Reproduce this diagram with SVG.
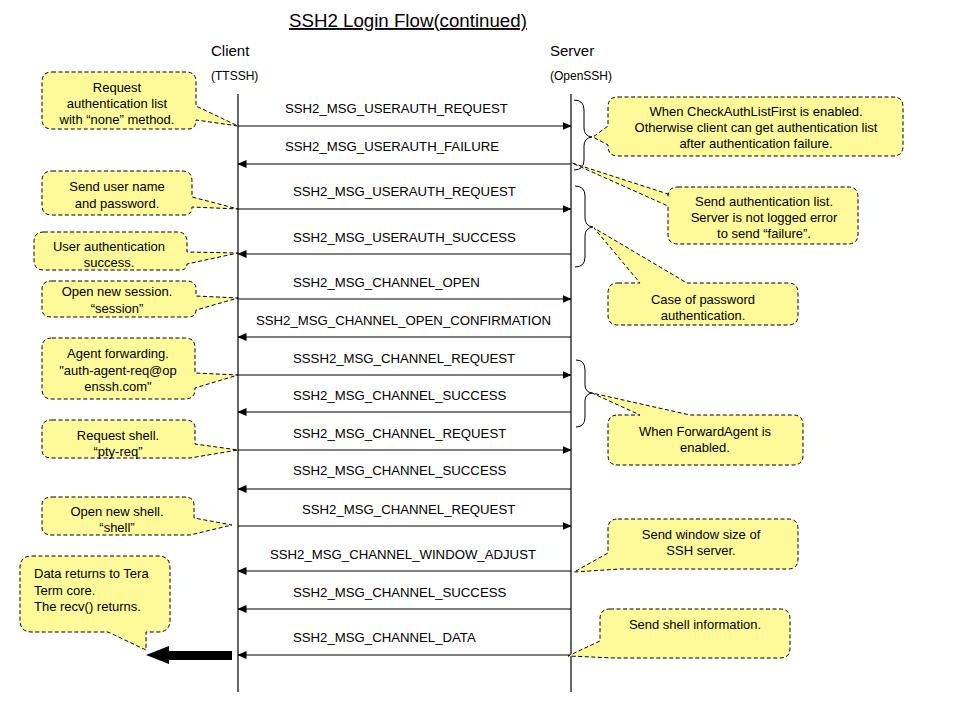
<svg xmlns="http://www.w3.org/2000/svg" width="960" height="720" viewBox="0 0 960 720">
<style>
text{font-family:"Liberation Sans",Arial,sans-serif;fill:#000}
.title{font-size:18.7px;text-decoration:underline}
.hdr{font-size:15px}
.sub{font-size:12px}
.msg{font-size:13.2px}
.ct{font-size:13px;text-anchor:middle}
.cl{font-size:13px}
.life{stroke:#000;stroke-width:1.2;fill:none}
.arr{stroke:#000;stroke-width:1.1;fill:none;marker-end:url(#ah)}
.call{fill:#FFFA99;stroke:#000;stroke-width:1;stroke-dasharray:4 2.5;stroke-linejoin:round}
.brace{fill:none;stroke:#000;stroke-width:1}
</style>
<defs>
<marker id="ah" markerWidth="9" markerHeight="8" refX="8.5" refY="4" orient="auto" markerUnits="userSpaceOnUse">
<path d="M0,0 L9,4 L0,8 Z" fill="#000"/>
</marker>
</defs>
<rect width="960" height="720" fill="#fff"/>

<g id="title"><text class="title" x="289" y="27">SSH2 Login Flow(continued)</text></g>

<g id="client">
<text class="hdr" x="211" y="56">Client</text>
<text class="sub" x="211" y="80">(TTSSH)</text>
<line class="life" x1="238" y1="94" x2="238" y2="692"/>
</g>
<g id="server">
<text class="hdr" x="550" y="56">Server</text>
<text class="sub" x="550" y="80">(OpenSSH)</text>
<line class="life" x1="571" y1="94" x2="571" y2="692"/>
</g>

<g id="connectors">
<line class="arr" x1="238" y1="126" x2="571" y2="126"/>
<line class="arr" x1="571" y1="164" x2="238" y2="164"/>
<line class="arr" x1="238" y1="209" x2="571" y2="209"/>
<line class="arr" x1="571" y1="254" x2="238" y2="254"/>
<line class="arr" x1="238" y1="299" x2="571" y2="299"/>
<line class="arr" x1="571" y1="337" x2="238" y2="337"/>
<line class="arr" x1="238" y1="375" x2="571" y2="375"/>
<line class="arr" x1="571" y1="412" x2="238" y2="412"/>
<line class="arr" x1="238" y1="450" x2="571" y2="450"/>
<line class="arr" x1="571" y1="489" x2="238" y2="489"/>
<line class="arr" x1="238" y1="526" x2="571" y2="526"/>
<line class="arr" x1="571" y1="571" x2="238" y2="571"/>
<line class="arr" x1="571" y1="609" x2="238" y2="609"/>
<line class="arr" x1="571" y1="655" x2="238" y2="655"/>
<text class="msg" x="285" y="113">SSH2_MSG_USERAUTH_REQUEST</text>
<text class="msg" x="285" y="151">SSH2_MSG_USERAUTH_FAILURE</text>
<text class="msg" x="293" y="196">SSH2_MSG_USERAUTH_REQUEST</text>
<text class="msg" x="293" y="242">SSH2_MSG_USERAUTH_SUCCESS</text>
<text class="msg" x="293" y="287">SSH2_MSG_CHANNEL_OPEN</text>
<text class="msg" x="256" y="325">SSH2_MSG_CHANNEL_OPEN_CONFIRMATION</text>
<text class="msg" x="293" y="363">SSSH2_MSG_CHANNEL_REQUEST</text>
<text class="msg" x="293" y="400">SSH2_MSG_CHANNEL_SUCCESS</text>
<text class="msg" x="293" y="438">SSH2_MSG_CHANNEL_REQUEST</text>
<text class="msg" x="293" y="475">SSH2_MSG_CHANNEL_SUCCESS</text>
<text class="msg" x="302" y="514">SSH2_MSG_CHANNEL_REQUEST</text>
<text class="msg" x="270" y="559">SSH2_MSG_CHANNEL_WINDOW_ADJUST</text>
<text class="msg" x="293" y="597">SSH2_MSG_CHANNEL_SUCCESS</text>
<text class="msg" x="293" y="642">SSH2_MSG_CHANNEL_DATA</text>
<path class="brace" d="M574,100 Q584,100 584,110 V128 Q584,136 592,137 Q584,138 584,146 V160 Q584,170 574,170"/>
<path class="brace" d="M575,186 Q585,186 585,196 V218 Q585,226 593,227 Q585,228 585,236 V257 Q585,267 575,267"/>
<path class="brace" d="M576,360 Q585,360 585,370 V385 Q585,392 592,393 Q585,394 585,401 V417 Q585,427 576,427"/>
<polygon id="bigarrow" points="146,655 169,646 169,651 232,651 232,660 169,660 169,664" fill="#000"/>
</g>

<g id="note-request-list">
<path class="call" d="M52,72 H186 Q196,72 196,82 V106 L238,126 L196,120 Q196,129 188,129 H52 Q42,129 42,119 V82 Q42,72 52,72 Z"/>
<text class="ct" x="117" y="92">Request</text>
<text class="ct" x="117" y="108">authentication list</text>
<text class="ct" x="117" y="124">with “none” method.</text>
</g>
<g id="note-send-user">
<path class="call" d="M52,171 H182 Q192,171 192,181 V197 L238,209 L192,207 Q192,215 184,215 H52 Q42,215 42,205 V181 Q42,171 52,171 Z"/>
<text class="ct" x="117" y="191">Send user name</text>
<text class="ct" x="117" y="207.5">and password.</text>
</g>
<g id="note-auth-success">
<path class="call" d="M44,232 H177 Q187,232 187,242 V252 L238,253 L187,264 Q187,270 180,270 H44 Q34,270 34,260 V242 Q34,232 44,232 Z"/>
<text class="ct" x="109" y="250.5">User authentication</text>
<text class="ct" x="109" y="266.5">success.</text>
</g>
<g id="note-open-session">
<path class="call" d="M52,281 H186 Q196,281 196,289 V296 L238,298 L196,310 Q196,317 188,317 H52 Q42,317 42,309 V289 Q42,281 52,281 Z"/>
<text class="ct" x="117" y="296">Open new session.</text>
<text class="ct" x="117" y="312.5">“session”</text>
</g>
<g id="note-agent">
<path class="call" d="M52,338 H185 Q195,338 195,348 V373 L238,375 L195,388 V389 Q195,399 185,399 H52 Q42,399 42,389 V348 Q42,338 52,338 Z"/>
<text class="ct" x="118" y="358">Agent forwarding.</text>
<text class="ct" x="118" y="374.5">"auth-agent-req@op</text>
<text class="ct" x="118" y="391">enssh.com"</text>
</g>
<g id="note-request-shell">
<path class="call" d="M52,420 H185 Q195,420 195,428 V444 L238,450 L190,458 H52 Q42,458 42,450 V428 Q42,420 52,420 Z"/>
<text class="ct" x="118" y="440">Request shell.</text>
<text class="ct" x="118" y="456">“pty-req”</text>
</g>
<g id="note-open-shell">
<path class="call" d="M52,497 H184 Q194,497 194,505 V518 L232,525 L190,535 H52 Q42,535 42,527 V505 Q42,497 52,497 Z"/>
<text class="ct" x="117" y="516">Open new shell.</text>
<text class="ct" x="117" y="532">“shell”</text>
</g>
<g id="note-data-returns">
<path class="call" d="M32,556 H158 Q170,556 170,568 V620 Q170,632 158,632 H146 V650 L108,632 H32 Q20,632 20,620 V568 Q20,556 32,556 Z"/>
<text class="cl" x="34" y="578">Data returns to Tera</text>
<text class="cl" x="34" y="594.5">Term core.</text>
<text class="cl" x="34" y="610.5">The recv() returns.</text>
</g>

<g id="note-checkauth">
<path class="call" d="M618,97 H893 Q903,97 903,107 V146 Q903,156 893,156 H618 Q608,156 608,146 V145 L593,137 L608,126 V107 Q608,97 618,97 Z"/>
<text class="ct" x="756" y="116">When CheckAuthListFirst is enabled.</text>
<text class="ct" x="756" y="132">Otherwise client can get authentication list</text>
<text class="ct" x="756" y="148">after authentication failure.</text>
</g>
<g id="note-send-authlist">
<path class="call" d="M678,187 H848 Q858,187 858,197 V234 Q858,244 848,244 H678 Q668,244 668,234 V206 L572,163 L668,194 V197 Q668,187 678,187 Z"/>
<text class="ct" x="764" y="206">Send authentication list.</text>
<text class="ct" x="764" y="222">Server is not logged error</text>
<text class="ct" x="764" y="238">to send “failure”.</text>
</g>
<g id="note-password">
<path class="call" d="M618,283 H640 L594,228 L687,283 H788 Q798,283 798,293 V315 Q798,325 788,325 H618 Q608,325 608,315 V293 Q608,283 618,283 Z"/>
<text class="ct" x="703" y="304">Case of password</text>
<text class="ct" x="703" y="320">authentication.</text>
</g>
<g id="note-forwardagent">
<path class="call" d="M618,415 H640 L592,393 L690,415 H793 Q803,415 803,425 V455 Q803,465 793,465 H618 Q608,465 608,455 V425 Q608,415 618,415 Z"/>
<text class="ct" x="705" y="436">When ForwardAgent is</text>
<text class="ct" x="705" y="452">enabled.</text>
</g>
<g id="note-window-size">
<path class="call" d="M618,519 H788 Q798,519 798,529 V559 Q798,569 788,569 H620 L574,572 L608,553 V529 Q608,519 618,519 Z"/>
<text class="ct" x="701" y="539">Send window size of</text>
<text class="ct" x="701" y="555">SSH server.</text>
</g>
<g id="note-shell-info">
<path class="call" d="M610,609 H780 Q790,609 790,619 V648 Q790,658 780,658 H614 L568,656 L600,641 V619 Q600,609 610,609 Z"/>
<text class="ct" x="695" y="629">Send shell information.</text>
</g>
</svg>
